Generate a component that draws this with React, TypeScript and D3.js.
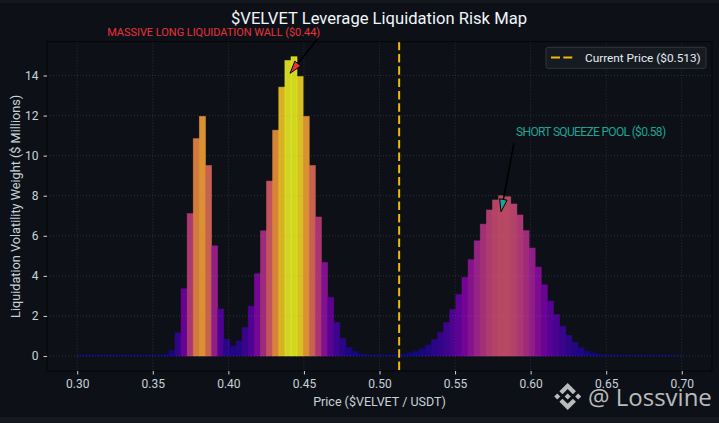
import React, { FC } from 'react';
import * as d3 from 'd3';

// histogram of leveraged liquidation weight, 99 equal bins between 0.30 and 0.70
const binStart = 0.3;
const binEnd = 0.7;
const weights = [
  0.04, 0.04, 0.04, 0.04, 0.04, 0.04, 0.04, 0.04, 0.04, 0.04,
  0.04, 0.04, 0.04, 0.05, 0.09, 0.28, 1.16, 3.36, 7.11, 10.85,
  11.96, 9.51, 5.5, 2.35, 0.83, 0.5, 0.75, 1.43, 2.49, 4.11,
  6.25, 8.73, 11.27, 13.42, 14.75, 14.94, 13.95, 11.96, 9.51, 6.94,
  4.67, 2.92, 1.67, 0.88, 0.43, 0.23, 0.1, 0.06, 0.05, 0.05,
  0.05, 0.05, 0.07, 0.1, 0.17, 0.23, 0.37, 0.55, 0.83, 1.18,
  1.67, 2.32, 3.07, 3.93, 4.81, 5.75, 6.58, 7.29, 7.79, 8.0,
  7.95, 7.59, 7.04, 6.26, 5.39, 4.44, 3.56, 2.74, 2.07, 1.48,
  1.03, 0.68, 0.42, 0.25, 0.15, 0.08, 0.05, 0.04, 0.04, 0.03,
  0.03, 0.03, 0.03, 0.03, 0.03, 0.03, 0.03, 0.03, 0.03,
];
const xTicks = [0.3, 0.35, 0.4, 0.45, 0.5, 0.55, 0.6, 0.65, 0.7];
const yTicks = [0, 2, 4, 6, 8, 10, 12, 14];
const currentPrice = 0.513;

const title = '$VELVET Leverage Liquidation Risk Map';
const xLabel = 'Price ($VELVET / USDT)';
const yLabel = 'Liquidation Volatility Weight ($ Millions)';
const legendLabel = 'Current Price ($0.513)';

const annotations = [
  {
    text: 'MASSIVE LONG LIQUIDATION WALL ($0.44)',
    color: '#e8323c',
    size: 11,
    span: 213,
    textAt: [0.3903, 15.95],
    from: [0.46, 15.92],
    to: [0.4408, 14.11],
  },
  {
    text: 'SHORT SQUEEZE POOL ($0.58)',
    color: '#1fa396',
    size: 12,
    span: 150,
    textAt: [0.64, 10.96],
    from: [0.589, 10.63],
    to: [0.5804, 7.2],
  },
];

const W = 719;
const H = 423;
const FONT = 'Roboto, "Noto Sans", sans-serif';
const BG = '#0d1117';
const TXT = '#c9d1d9';
const GOLD = '#f0b90b';

const chart = () => {
  const margin = { top: 41.7, right: 7, bottom: 52, left: 47 };
  const ext = (binEnd - binStart) * 0.05;
  const x = d3
    .scaleLinear()
    .domain([binStart - ext, binEnd + ext])
    .range([margin.left, W - margin.right]);
  const ymax = d3.max(weights) || 1;
  const y = d3
    .scaleLinear()
    .domain([-ymax * 0.05, ymax * 1.05])
    .range([H - margin.bottom, margin.top]);
  const binW = (binEnd - binStart) / weights.length;
  const color = (v: number) => d3.interpolatePlasma(v / ymax);

  const svg = d3
    .create('svg')
    .attr('width', W)
    .attr('height', H)
    .attr('viewBox', `0 0 ${W} ${H}`)
    .attr('font-family', FONT)
    .style('position', 'absolute')
    .style('left', '0')
    .style('top', '0');

  svg.append('rect').attr('width', W).attr('height', H).attr('fill', '#15191e');
  svg.append('rect').attr('y', 3).attr('width', W).attr('height', 414).attr('fill', BG);

  // bars
  svg
    .append('g')
    .selectAll('rect')
    .data(weights)
    .join('rect')
    .attr('x', (_, i) => x(binStart + i * binW))
    .attr('width', (_, i) => x(binStart + (i + 1) * binW) - x(binStart + i * binW))
    .attr('y', (d) => y(d))
    .attr('height', (d) => y(0) - y(d))
    .attr('fill', (d) => color(d))
    .attr('fill-opacity', 0.86)
    .attr('stroke', (d) => color(d))
    .attr('stroke-opacity', 0.5)
    .attr('stroke-width', 0.8);

  // grid
  const grid = svg
    .append('g')
    .attr('stroke', '#8b949e')
    .attr('stroke-opacity', 0.3)
    .attr('stroke-width', 0.8)
    .attr('stroke-dasharray', '1,2');
  grid
    .selectAll('line.gx')
    .data(xTicks)
    .join('line')
    .attr('x1', (d) => x(d))
    .attr('x2', (d) => x(d))
    .attr('y1', margin.top)
    .attr('y2', H - margin.bottom);
  grid
    .selectAll('line.gy')
    .data(yTicks)
    .join('line')
    .attr('class', 'gy')
    .attr('y1', (d) => y(d))
    .attr('y2', (d) => y(d))
    .attr('x1', margin.left)
    .attr('x2', W - margin.right);

  // current price line
  svg
    .append('line')
    .attr('x1', x(currentPrice))
    .attr('x2', x(currentPrice))
    .attr('y1', margin.top)
    .attr('y2', H - margin.bottom)
    .attr('stroke', GOLD)
    .attr('stroke-width', 2)
    .attr('stroke-dasharray', '8.5,3.8');

  // frame
  svg
    .append('rect')
    .attr('x', margin.left)
    .attr('y', margin.top)
    .attr('width', W - margin.right - margin.left)
    .attr('height', H - margin.bottom - margin.top)
    .attr('fill', 'none')
    .attr('stroke', '#040506')
    .attr('stroke-width', 1);

  // axes
  const xAxis = svg
    .append('g')
    .attr('transform', `translate(0,${H - margin.bottom})`)
    .call(d3.axisBottom(x).tickValues(xTicks).tickFormat(d3.format('.2f')).tickSize(3.5).tickPadding(5));
  const yAxis = svg
    .append('g')
    .attr('transform', `translate(${margin.left},0)`)
    .call(d3.axisLeft(y).tickValues(yTicks).tickSize(3.5).tickPadding(5));
  [xAxis, yAxis].forEach((g) => {
    g.select('.domain').remove();
    g.selectAll('line').attr('stroke', TXT);
    g.selectAll('text')
      .attr('fill', TXT)
      .attr('font-size', 12)
      .attr('font-family', FONT);
    g.attr('font-family', FONT);
  });

  svg
    .append('text')
    .attr('x', (margin.left + W - margin.right) / 2)
    .attr('y', 406)
    .attr('text-anchor', 'middle')
    .attr('fill', TXT)
    .attr('font-size', 12.5)
    .text(xLabel);
  svg
    .append('text')
    .attr('transform', `translate(19.5,${(margin.top + H - margin.bottom) / 2}) rotate(-90)`)
    .attr('text-anchor', 'middle')
    .attr('fill', TXT)
    .attr('font-size', 12.7)
    .text(yLabel);
  svg
    .append('text')
    .attr('x', 379)
    .attr('y', 24)
    .attr('text-anchor', 'middle')
    .attr('fill', '#f0f6fc')
    .attr('font-size', 16.6)
    .text(title);

  // annotations
  annotations.forEach((a) => {
    const [tx, ty] = [x(a.to[0]), y(a.to[1])];
    const [fx, fy] = [x(a.from[0]), y(a.from[1])];
    const len = Math.hypot(tx - fx, ty - fy);
    const ux = (tx - fx) / len;
    const uy = (ty - fy) / len;
    const headL = 12.5;
    const headW = 3.8;
    const bx = tx - ux * headL;
    const by = ty - uy * headL;
    svg
      .append('line')
      .attr('x1', fx)
      .attr('y1', fy)
      .attr('x2', bx)
      .attr('y2', by)
      .attr('stroke', '#000')
      .attr('stroke-width', 1.6);
    svg
      .append('path')
      .attr(
        'd',
        `M${tx},${ty}L${bx - uy * headW},${by + ux * headW}L${bx + uy * headW},${by - ux * headW}Z`,
      )
      .attr('fill', a.color)
      .attr('stroke', '#000')
      .attr('stroke-width', 1);
    svg
      .append('text')
      .attr('x', x(a.textAt[0]))
      .attr('y', y(a.textAt[1]))
      .attr('text-anchor', 'middle')
      .attr('fill', a.color)
      .attr('font-size', a.size)
      .attr('textLength', a.span)
      .attr('lengthAdjust', 'spacing')
      .text(a.text);
  });

  // legend
  const lg = svg.append('g').attr('transform', 'translate(546,47.3)');
  lg.append('rect')
    .attr('width', 160)
    .attr('height', 21)
    .attr('rx', 2)
    .attr('fill', '#161b22')
    .attr('stroke', '#30363d');
  lg.append('line')
    .attr('x1', 5)
    .attr('x2', 27)
    .attr('y1', 10.2)
    .attr('y2', 10.2)
    .attr('stroke', GOLD)
    .attr('stroke-width', 2)
    .attr('stroke-dasharray', '9,3.3');
  lg.append('text')
    .attr('x', 39)
    .attr('y', 14.4)
    .attr('fill', '#e6edf3')
    .attr('font-size', 11.8)
    .text(legendLabel);

  // watermark
  const wm = svg.append('g').attr('opacity', 0.85);
  wm.append('g')
    .attr('transform', 'translate(554.2,383) scale(0.213)')
    .attr('fill', '#d9d9d9')
    .call((g) => {
      g.append('path').attr(
        'd',
        'M38.73 53.2l24.59-24.58 24.6 24.6 14.3-14.31L63.32 0 24.42 38.9l14.31 14.3zM0 63.31l14.3-14.31 14.31 14.31-14.31 14.3zM38.73 73.41l24.59 24.59 24.6-24.6 14.31 14.29-38.9 38.91-38.91-38.88-.02-.02 14.33-14.29zM98.28 63.31l14.3-14.3 14.31 14.3-14.31 14.31z',
      );
      g.append('path').attr(
        'd',
        'M77.83 63.3L63.32 48.78 52.59 59.51l-1.24 1.23-2.54 2.54-.02.02.02.03 14.51 14.5 14.51-14.52.01-.01-.01-.01z',
      );
    });
  wm.append('text')
    .attr('x', 588)
    .attr('y', 405.5)
    .attr('fill', '#d9d9d9')
    .attr('font-family', '"Open Sans", sans-serif')
    .attr('font-size', 24)
    .text('@ Lossvine');

  return svg.node();
};

const App: FC = () => (
  <div
    ref={(elem) => {
      if (!elem) {
        return;
      }
      const svg = chart();
      if (!svg) {
        return;
      }
      elem.innerHTML = '';
      elem.appendChild(svg);
    }}
  />
);

export default App;
